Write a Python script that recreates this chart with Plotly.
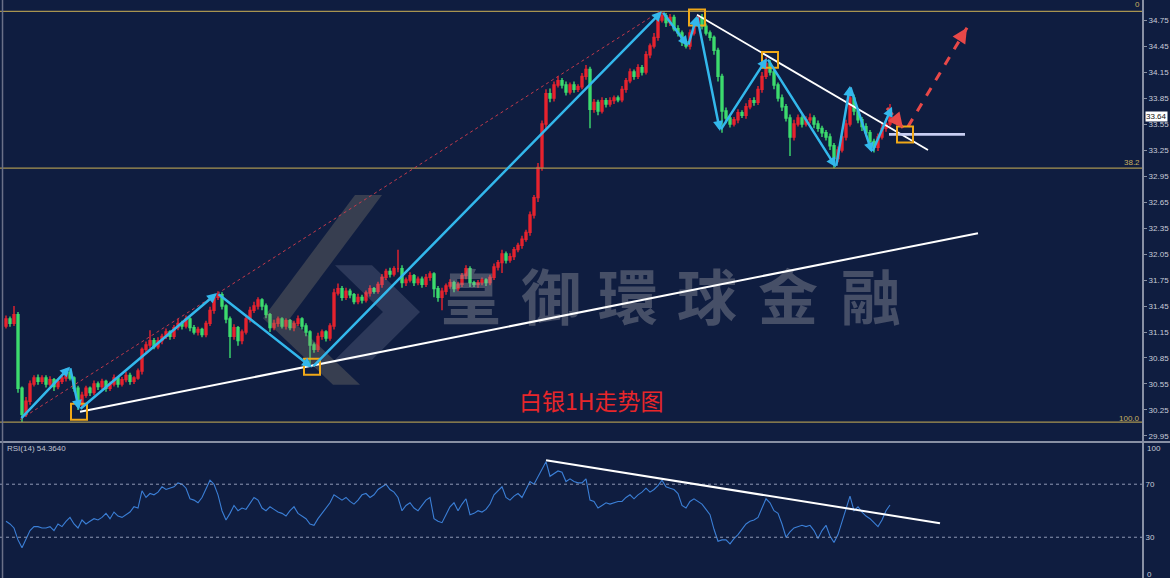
import plotly.graph_objects as go

# ---------------- data ----------------
open_first = 31.22
closes = [
    31.30, 31.25, 31.35, 30.50, 30.20, 30.35, 30.55, 30.62, 30.58, 30.62,
    30.55, 30.60, 30.52, 30.58, 30.62, 30.68, 30.62, 30.50, 30.30, 30.42,
    30.50, 30.45, 30.55, 30.52, 30.58, 30.50, 30.55, 30.62, 30.55, 30.60,
    30.65, 30.58, 30.62, 30.70, 30.95, 31.00, 31.05, 30.98, 31.05, 31.10,
    31.15, 31.10, 31.20, 31.25, 31.22, 31.30, 31.20, 31.15, 31.18, 31.12,
    31.25, 31.40, 31.55, 31.58, 31.45, 31.30, 31.10, 31.20, 31.05, 31.15,
    31.30, 31.40, 31.45, 31.52, 31.45, 31.35, 31.20, 31.25, 31.30, 31.22,
    31.28, 31.20, 31.25, 31.30, 31.22, 31.15, 31.00, 30.95, 31.10, 31.15,
    31.08, 31.22, 31.60, 31.65, 31.55, 31.62, 31.58, 31.50, 31.55, 31.52,
    31.60, 31.65, 31.62, 31.70, 31.78, 31.85, 31.82, 31.88, 31.88, 31.72,
    31.75, 31.80, 31.72, 31.76, 31.70, 31.78, 31.82, 31.65, 31.55, 31.62,
    31.68, 31.72, 31.65, 31.70, 31.80, 31.88, 31.72, 31.70, 31.72, 31.75,
    31.72, 31.78, 31.90, 31.95, 32.05, 31.98, 32.02, 32.10, 32.15, 32.22,
    32.30, 32.50, 32.70, 33.05, 33.55, 33.90, 33.85, 34.00, 34.05, 34.00,
    33.92, 34.00, 33.95, 33.98, 34.10, 34.18, 33.72, 33.80, 33.70, 33.82,
    33.78, 33.82, 33.85, 33.83, 33.95, 34.05, 34.15, 34.10, 34.20, 34.15,
    34.35, 34.45, 34.55, 34.75, 34.80, 34.72, 34.78, 34.65, 34.60, 34.50,
    34.45, 34.60, 34.72, 34.78, 34.68, 34.60, 34.55, 34.40, 34.10, 33.70,
    33.62, 33.55, 33.60, 33.68, 33.65, 33.75, 33.82, 33.80, 33.95, 34.10,
    34.25, 34.15, 34.00, 33.85, 33.75, 33.62, 33.40, 33.55, 33.62, 33.55,
    33.60, 33.62, 33.55, 33.50, 33.45, 33.40, 33.30, 33.15, 33.25, 33.40,
    33.55, 33.85, 33.70, 33.60, 33.52, 33.45, 33.35, 33.28, 33.40, 33.50,
    33.55, 33.64,
]
upper_wick_cents = [
    4, 3, 10, 3, 2, 5, 4, 3, 4, 3,
    3, 4, 2, 3, 4, 5, 3, 2, 3, 4,
    3, 2, 4, 3, 3, 2, 3, 4, 2, 3,
    4, 3, 2, 3, 2, 4, 12, 3, 4, 3,
    4, 2, 3, 5, 3, 4, 2, 3, 3, 2,
    3, 4, 3, 4, 3, 2, 3, 4, 2, 3,
    3, 4, 5, 3, 2, 3, 2, 4, 3, 2,
    3, 2, 3, 4, 2, 3, 2, 3, 4, 3,
    2, 3, 5, 6, 3, 4, 3, 2, 4, 3,
    3, 4, 2, 3, 4, 3, 4, 3, 22, 4,
    3, 4, 2, 3, 3, 4, 3, 2, 3, 4,
    3, 4, 2, 3, 3, 4, 3, 2, 3, 3,
    2, 3, 4, 3, 5, 3, 4, 3, 3, 4,
    3, 4, 3, 5, 4, 5, 6, 4, 5, 3,
    4, 3, 4, 3, 4, 5, 3, 4, 3, 4,
    3, 4, 3, 3, 4, 3, 4, 3, 4, 3,
    4, 3, 5, 4, 5, 3, 4, 3, 4, 3,
    2, 4, 3, 2, 4, 3, 3, 2, 3, 3,
    4, 3, 3, 4, 3, 4, 3, 4, 4, 5,
    7, 4, 3, 3, 4, 3, 4, 5, 4, 3,
    4, 5, 3, 4, 3, 3, 4, 3, 4, 5,
    5, 13, 4, 3, 3, 4, 3, 3, 4, 5,
    6, 14,
]
lower_wick_cents = [
    3, 4, 3, 5, 9, 3, 4, 3, 4, 3,
    4, 3, 5, 3, 3, 4, 3, 4, 5, 3,
    3, 4, 3, 4, 3, 4, 3, 3, 4, 3,
    3, 4, 3, 2, 4, 3, 4, 3, 3, 4,
    3, 4, 3, 3, 4, 3, 4, 3, 4, 3,
    3, 3, 4, 3, 4, 5, 25, 4, 6, 4,
    3, 4, 3, 4, 5, 4, 5, 3, 4, 3,
    4, 3, 4, 3, 4, 5, 22, 4, 3, 4,
    4, 3, 4, 3, 4, 3, 4, 3, 3, 4,
    3, 4, 3, 3, 4, 3, 4, 3, 4, 6,
    4, 3, 4, 3, 4, 3, 4, 10, 5, 15,
    4, 3, 4, 3, 3, 4, 5, 3, 4, 3,
    4, 3, 3, 4, 12, 4, 3, 4, 3, 4,
    3, 4, 4, 5, 4, 6, 5, 4, 3, 4,
    4, 3, 4, 3, 3, 4, 22, 4, 5, 3,
    4, 3, 4, 3, 3, 4, 3, 4, 3, 4,
    3, 4, 3, 4, 3, 5, 4, 3, 4, 5,
    3, 4, 3, 3, 4, 3, 4, 5, 6, 25,
    6, 4, 3, 4, 3, 4, 3, 4, 3, 4,
    3, 4, 5, 4, 5, 4, 22, 4, 3, 4,
    3, 4, 5, 4, 5, 4, 5, 11, 4, 3,
    4, 3, 5, 4, 5, 4, 5, 6, 4, 3,
    4, 3,
]
rsi_values = [
    42, 40, 37, 28, 22, 29, 35, 38, 38, 37,
    37, 38, 35, 40, 38, 42, 45, 40, 37, 43,
    40, 42, 44, 43, 45, 48, 44, 49, 46, 45,
    47, 49, 53, 52, 65, 60, 63, 62, 64, 68,
    66, 67, 68, 71, 70, 67, 59, 58, 56, 60,
    66, 73, 70, 62, 50, 43, 48, 54, 50, 52,
    51, 56, 60, 58, 52, 50, 53, 51, 49, 48,
    46, 50, 53, 48, 46, 44, 40, 39, 44, 48,
    52, 56, 62, 60, 58, 60, 57, 55, 58, 62,
    63, 60, 62, 66, 68, 70, 66, 64, 60, 50,
    54, 56, 52, 50, 54, 58, 60, 44, 42, 41,
    47, 53, 56, 50, 55, 59, 47, 48, 50, 49,
    51, 55, 62, 65, 68, 60, 58, 61, 63, 60,
    66, 72, 70, 76, 82, 87, 76, 78, 80, 79,
    72, 74, 72, 71, 71, 74, 58, 57, 52, 54,
    56, 55, 56, 57, 57, 60, 62, 59, 62, 64,
    67, 64, 66, 69, 73, 68, 67, 66, 63, 54,
    52, 57, 59, 57, 55, 51, 47, 36, 27, 28,
    28, 25, 29, 32, 36, 40, 42, 43, 45, 52,
    59, 56, 50, 48, 40, 30, 34, 37, 38, 39,
    38, 39, 35, 29, 35, 39, 31, 26, 32, 42,
    52, 61, 50, 53, 49, 46, 44, 41, 38, 43,
    50, 54.364,
]
rsi_label = "RSI(14) 54.3640"
last_price = 33.64

price_ticks = [29.95, 30.25, 30.55, 30.85, 31.15, 31.45, 31.75, 32.05, 32.35,
               32.65, 32.95, 33.25, 33.55, 33.85, 34.15, 34.45, 34.75]
rsi_ticks = [30, 70]

fib_levels = [34.85, 33.04, 30.11]
fib_labels = ["0", "38.2", "100.0"]

# zigzag wave (candle index, price)
zig_idx = [3.5, 16, 18.25, 52.75, 76.5, 164, 170.5, 172.75, 178.5, 190.25, 207.5, 211, 216.5, 221.5]
zig_price = [30.14, 30.75, 30.25, 31.60, 30.74, 34.85, 34.45, 34.80, 33.47, 34.31, 33.05, 33.99, 33.22, 33.75]

# highlighted turning points (boxes)
box_idx = [18.25, 76.5, 172.75, 191, 224.75]
box_price = [30.23, 30.75, 34.78, 34.29, 33.43]

# trend lines: (x0, y0, x1, y1)
up_trend = (18.5, 30.23, 243, 32.29)
down_trend = (172.75, 34.81, 230.5, 33.25)
flat_line = (220.75, 33.43, 239.75, 33.43)
red_dotted = (3.5, 30.14, 163.5, 34.85)
red_arrow_1 = (220.25, 33.735, 224.25, 33.505)
red_arrow_2 = (225.5, 33.52, 240.25, 34.66)
rsi_trend = (135, 88, 233.5, 40.6)

watermark_chars = ["皇", "御", "環", "球", "金", "融"]
watermark_idx = [116.25, 136.25, 155.5, 175.25, 195.5, 216.25]
watermark_price = [31.46] * 6

logo_a_idx = [87.25, 94, 71, 64.25]
logo_a_price = [32.73, 32.73, 31.31, 31.31]
logo_b_idx = [64.25, 71, 88.5, 81.75]
logo_b_price = [31.31, 31.31, 30.54, 30.54]
logo_c_idx = [82.25, 91.5, 103.5, 91.5, 82.25, 94.25]
logo_c_price = [31.92, 31.92, 31.38, 30.83, 30.83, 31.38]

title_text = "白银1H走势图"

# ---------------- derived OHLC ----------------
n = len(closes)
idx = list(range(n))
opens = [open_first] + closes[:-1]
highs = [max(o, c) + u / 100 for o, c, u in zip(opens, closes, upper_wick_cents)]
lows = [min(o, c) - l / 100 for o, c, l in zip(opens, closes, lower_wick_cents)]

BG = "#0f1d40"
AX = "#8890a4"
TXT = "#c8ccd8"
UP = "#e8232e"
DOWN = "#3ddc6e"
BLUE = "#33b8ec"
FIB = "#a89450"
ORANGE = "#f0a818"
REDA = "#e84848"

fig = go.Figure()

# watermark logo & text (below candles)
for px_, py_, col in [(logo_a_idx, logo_a_price, "rgba(150,138,120,0.30)"),
                      (logo_b_idx, logo_b_price, "rgba(150,138,120,0.30)"),
                      (logo_c_idx, logo_c_price, "rgba(175,185,205,0.18)")]:
    fig.add_trace(go.Scatter(x=px_ + [px_[0]], y=py_ + [py_[0]], fill="toself", fillcolor=col,
                             mode="none", hoverinfo="skip", showlegend=False))
fig.add_trace(go.Scatter(x=watermark_idx, y=watermark_price, mode="text", text=watermark_chars,
                         textfont=dict(family="Noto Sans CJK TC", size=60, color="rgba(160,160,168,0.38)",
                                       weight="bold"),
                         hoverinfo="skip", showlegend=False))

fig.add_trace(go.Candlestick(
    x=idx, open=opens, high=highs, low=lows, close=closes,
    increasing=dict(line=dict(color=UP, width=1.4), fillcolor=UP),
    decreasing=dict(line=dict(color=DOWN, width=1.4), fillcolor=DOWN),
    whiskerwidth=0, hoverinfo="skip", showlegend=False, xaxis="x", yaxis="y"))

fig.add_trace(go.Scatter(x=idx, y=rsi_values, mode="lines", line=dict(color="#3b7fd6", width=1.1),
                         hoverinfo="skip", showlegend=False, xaxis="x2", yaxis="y2"))

shapes = []
X0, X1 = -1.5, 284
for lv in fib_levels:
    shapes.append(dict(type="line", xref="x", yref="y", x0=X0, x1=X1, y0=lv, y1=lv,
                       line=dict(color=FIB, width=1.3)))
for lv in rsi_ticks:
    shapes.append(dict(type="line", xref="x2", yref="y2", x0=X0, x1=X1, y0=lv, y1=lv,
                       line=dict(color="#8f98b4", width=1, dash="dot")))


def seg(t, color, width, dash="solid", xref="x", yref="y"):
    return dict(type="line", xref=xref, yref=yref, x0=t[0], y0=t[1], x1=t[2], y1=t[3],
                line=dict(color=color, width=width, dash=dash))


shapes.append(seg(red_dotted, "#c23a4c", 1, "dot"))
shapes.append(seg(up_trend, "#ffffff", 2))
shapes.append(seg(down_trend, "#ffffff", 1.8))
shapes.append(seg(flat_line, "#c8cef2", 2.6))
shapes.append(seg(red_arrow_1, REDA, 3, "dash"))
shapes.append(seg(red_arrow_2, REDA, 3, "dash"))
shapes.append(seg(rsi_trend, "#ffffff", 2, xref="x2", yref="y2"))
for bx, bp in zip(box_idx, box_price):
    shapes.append(dict(type="rect", xref="x", yref="y", x0=bx - 2, x1=bx + 2, y0=bp - 0.092, y1=bp + 0.092,
                       line=dict(color=ORANGE, width=2)))
# pane separator & left border
shapes.append(dict(type="line", xref="paper", yref="paper", x0=0, x1=1.0246, y0=0.2353, y1=0.2353,
                   line=dict(color=AX, width=2)))
shapes.append(dict(type="line", xref="paper", yref="paper", x0=0.0022, x1=0.0022, y0=0, y1=1,
                   line=dict(color="#6a7088", width=1.5)))

ann = []
for k in range(len(zig_idx) - 1):
    ann.append(dict(x=zig_idx[k + 1], y=zig_price[k + 1], ax=zig_idx[k], ay=zig_price[k],
                    xref="x", yref="y", axref="x", ayref="y", text="", showarrow=True,
                    arrowhead=2, arrowsize=0.8, arrowwidth=2.5, arrowcolor=BLUE))
ann.append(dict(x=red_arrow_1[2], y=red_arrow_1[3], ax=-8, ay=-10, xref="x", yref="y", text="",
                showarrow=True, arrowhead=2, arrowsize=1, arrowwidth=3, arrowcolor=REDA))
ann.append(dict(x=red_arrow_2[2], y=red_arrow_2[3], ax=-7, ay=11, xref="x", yref="y", text="",
                showarrow=True, arrowhead=2, arrowsize=1, arrowwidth=3, arrowcolor=REDA))

FONT_SMALL = "Liberation Sans Narrow, Liberation Sans, Arial"
for lv, lb, ys in zip(fib_levels, fib_labels, [0, -1, -3]):
    ann.append(dict(x=1, xref="paper", xanchor="right", y=lv, yref="y", yanchor="bottom", yshift=ys,
                    text=lb, showarrow=False, font=dict(family=FONT_SMALL, size=8, color="#c8b060")))
ann.append(dict(x=1, xref="paper", xanchor="left", xshift=3, y=last_price, yref="y", yanchor="middle",
                text=str(last_price), showarrow=False, bgcolor="#ffffff", borderpad=0,
                font=dict(family=FONT_SMALL, size=8, color="#111111")))
ann.append(dict(x=1, xref="paper", xanchor="left", xshift=3, y=100, yref="y2", yanchor="middle", yshift=-4,
                text="100", showarrow=False, font=dict(family=FONT_SMALL, size=8, color=TXT)))
ann.append(dict(x=1, xref="paper", xanchor="left", xshift=3, y=0, yref="y2", yanchor="middle", yshift=3,
                text="0", showarrow=False, font=dict(family=FONT_SMALL, size=8, color=TXT)))
ann.append(dict(x=5 / 1142, xref="paper", xanchor="left", y=0.2232, yref="paper", yanchor="middle",
                text=rsi_label, showarrow=False, font=dict(family=FONT_SMALL, size=8, color="#c0c4d0")))
ann.append(dict(x=592 / 1142, xref="paper", xanchor="center", y=1 - 400 / 578, yref="paper", yanchor="middle",
                text=title_text, showarrow=False,
                font=dict(family="Noto Sans CJK SC", size=23, color="#e8262a")))

fig.update_layout(
    width=1170, height=578, margin=dict(l=0, r=28, t=0, b=0),
    paper_bgcolor=BG, plot_bgcolor=BG, showlegend=False,
    shapes=shapes, annotations=ann,
    xaxis=dict(domain=[0, 1], range=[X0, X1], visible=False, rangeslider=dict(visible=False), anchor="y"),
    xaxis2=dict(domain=[0, 1], range=[X0, X1], visible=False, anchor="y2", matches="x"),
    yaxis=dict(domain=[0.2370, 1], range=[29.892, 34.981], side="right", anchor="x",
               tickvals=price_ticks, ticktext=[f"{v:.2f}" for v in price_ticks],
               showgrid=False, zeroline=False, showline=True, linecolor=AX, linewidth=2,
               ticks="outside", ticklen=3, tickcolor=AX, tickwidth=1,
               tickfont=dict(family=FONT_SMALL, size=8, color=TXT)),
    yaxis2=dict(domain=[0, 0.2336], range=[-0.75, 101.1], side="right", anchor="x2",
                tickvals=rsi_ticks, ticktext=[str(v) for v in rsi_ticks],
                showgrid=False, zeroline=False, showline=True, linecolor=AX, linewidth=2,
                ticks="", tickfont=dict(family=FONT_SMALL, size=8, color=TXT)),
)

fig.write_html("out.html")
